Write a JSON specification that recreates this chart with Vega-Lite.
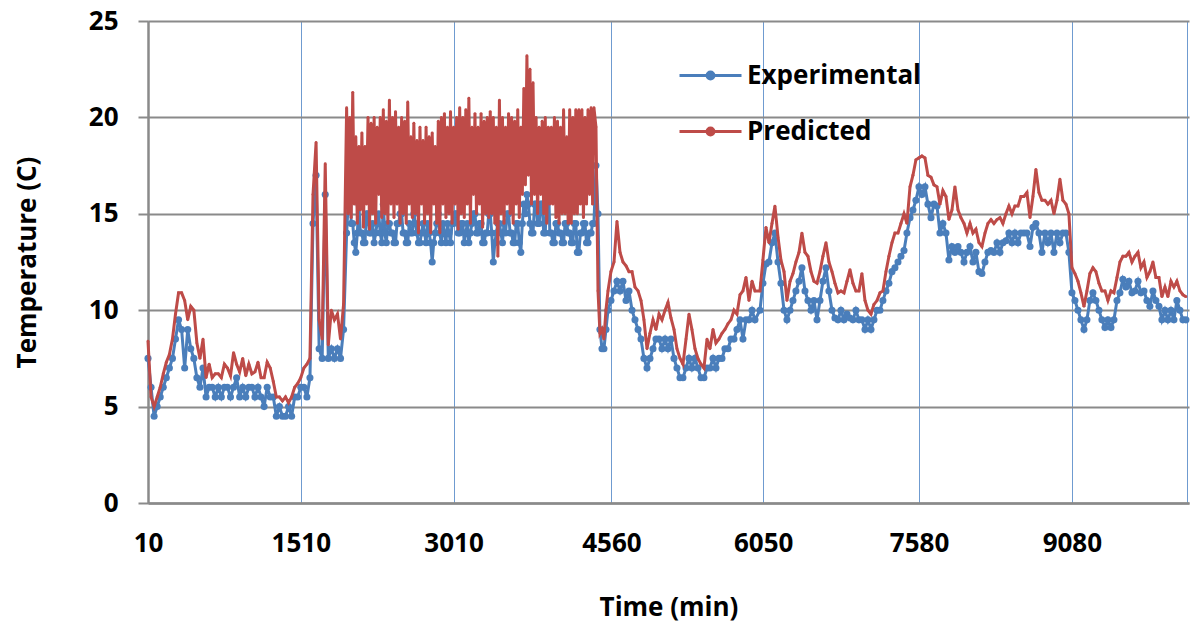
{
"$schema": "https://vega.github.io/schema/vega-lite/v6.json",
"width": 1041, "height": 482,
"autosize": {"type": "none"},
"padding": {"left": 148, "top": 21, "right": 2, "bottom": 128},
"background": "white",
"config": {"view": {"stroke": null}, "font": "Open Sans"},
"data": {"values": [
{"t":10,"e":7.5,"p":8.4},{"t":40,"e":6.0,"p":5.5},{"t":70,"e":4.5,"p":5.0},{"t":100,"e":5.0,"p":5.5},{"t":130,"e":5.5,"p":6.0},{"t":160,"e":6.0,"p":6.7},{"t":190,"e":6.5,"p":7.3},{"t":220,"e":7.0,"p":7.7},{"t":250,"e":7.5,"p":8.5},{"t":280,"e":8.5,"p":9.8},{"t":310,"e":9.5,"p":10.9},{"t":340,"e":9.0,"p":10.9},{"t":370,"e":7.0,"p":10.5},{"t":400,"e":9.0,"p":9.5},{"t":430,"e":8.0,"p":10.2},{"t":460,"e":7.5,"p":10.0},{"t":490,"e":6.5,"p":8.3},{"t":520,"e":6.0,"p":7.5},{"t":550,"e":7.0,"p":8.5},{"t":580,"e":5.5,"p":6.5},{"t":610,"e":6.0,"p":7.2},{"t":640,"e":6.0,"p":6.5},{"t":670,"e":5.5,"p":6.7},{"t":700,"e":6.0,"p":6.7},{"t":730,"e":5.5,"p":6.5},{"t":760,"e":6.0,"p":7.2},{"t":790,"e":6.0,"p":7.0},{"t":820,"e":5.5,"p":6.6},{"t":850,"e":6.0,"p":7.8},{"t":880,"e":6.5,"p":7.2},{"t":910,"e":5.5,"p":6.8},{"t":940,"e":6.0,"p":7.5},{"t":970,"e":5.5,"p":6.6},{"t":1000,"e":6.0,"p":7.2},{"t":1030,"e":6.0,"p":6.7},{"t":1060,"e":5.5,"p":6.8},{"t":1090,"e":6.0,"p":7.3},{"t":1120,"e":5.5,"p":6.5},{"t":1150,"e":5.0,"p":6.5},{"t":1180,"e":6.0,"p":7.3},{"t":1210,"e":5.5,"p":7.0},{"t":1240,"e":5.5,"p":6.3},{"t":1270,"e":4.5,"p":5.5},{"t":1300,"e":5.0,"p":5.5},{"t":1330,"e":4.5,"p":5.3},{"t":1360,"e":4.5,"p":5.5},{"t":1390,"e":5.0,"p":5.2},{"t":1420,"e":4.5,"p":5.5},{"t":1450,"e":5.5,"p":6.0},{"t":1480,"e":5.5,"p":6.2},{"t":1510,"e":6.0,"p":6.5},
{"t":1540,"e":6.0,"p":7.0},{"t":1570,"e":5.5,"p":7.2},{"t":1600,"e":6.5,"p":7.5},{"t":1630,"e":14.5,"p":16.0},{"t":1660,"e":17.0,"p":18.7},{"t":1690,"e":8.0,"p":9.5},{"t":1720,"e":7.5,"p":8.5},{"t":1750,"e":16.0,"p":17.6},{"t":1780,"e":7.5,"p":8.2},{"t":1810,"e":8.0,"p":10.0},{"t":1840,"e":7.5,"p":9.5},{"t":1870,"e":8.0,"p":9.8},{"t":1900,"e":7.5,"p":8.5},{"t":1930,"e":9.0,"p":10.3},
{"t":1960,"e":14.0,"p":20.5},{"t":1975,"e":15.5,"p":15.0},{"t":1990,"e":18.0,"p":20.0},{"t":2005,"e":14.5,"p":14.8},{"t":2020,"e":14.5,"p":21.3},{"t":2035,"e":13.5,"p":15.5},{"t":2050,"e":13.0,"p":19.0},{"t":2065,"e":14.0,"p":14.5},{"t":2080,"e":15.5,"p":18.5},{"t":2095,"e":14.0,"p":15.2},{"t":2110,"e":14.0,"p":19.2},{"t":2125,"e":13.5,"p":14.3},{"t":2140,"e":13.5,"p":18.5},{"t":2155,"e":15.0,"p":15.5},{"t":2170,"e":15.0,"p":20.0},{"t":2185,"e":14.0,"p":14.2},{"t":2200,"e":14.0,"p":19.7},{"t":2215,"e":14.5,"p":15.0},{"t":2230,"e":13.5,"p":20.0},{"t":2245,"e":14.0,"p":14.5},{"t":2260,"e":14.5,"p":19.5},{"t":2275,"e":15.0,"p":16.0},{"t":2290,"e":14.0,"p":20.0},{"t":2305,"e":13.5,"p":14.8},{"t":2320,"e":15.5,"p":20.4},{"t":2335,"e":14.0,"p":15.0},{"t":2350,"e":13.5,"p":19.8},{"t":2365,"e":14.5,"p":14.5},{"t":2380,"e":14.5,"p":20.9},{"t":2395,"e":14.0,"p":15.5},{"t":2410,"e":14.0,"p":20.0},{"t":2425,"e":13.5,"p":14.8},{"t":2440,"e":13.5,"p":20.3},{"t":2455,"e":14.5,"p":15.5},{"t":2470,"e":14.5,"p":19.5},{"t":2485,"e":15.0,"p":14.5},{"t":2500,"e":15.0,"p":20.0},{"t":2515,"e":14.0,"p":15.0},{"t":2530,"e":14.0,"p":19.8},{"t":2545,"e":13.5,"p":14.5},{"t":2560,"e":13.5,"p":20.8},{"t":2575,"e":14.5,"p":15.5},{"t":2590,"e":14.0,"p":19.0},{"t":2605,"e":14.0,"p":14.8},{"t":2620,"e":15.0,"p":19.7},{"t":2635,"e":14.5,"p":15.0},{"t":2650,"e":14.0,"p":18.8},{"t":2665,"e":13.5,"p":14.0},{"t":2680,"e":13.5,"p":19.5},{"t":2695,"e":14.0,"p":15.5},{"t":2710,"e":14.5,"p":18.8},{"t":2725,"e":14.0,"p":14.5},{"t":2740,"e":13.5,"p":19.5},{"t":2755,"e":14.5,"p":15.0},{"t":2770,"e":14.0,"p":19.0},{"t":2785,"e":13.5,"p":14.0},{"t":2800,"e":12.5,"p":19.2},{"t":2815,"e":13.5,"p":15.5},{"t":2830,"e":14.0,"p":18.5},{"t":2845,"e":14.5,"p":14.5},{"t":2860,"e":15.0,"p":19.8},{"t":2875,"e":14.0,"p":14.0},{"t":2890,"e":13.5,"p":20.0},{"t":2905,"e":14.5,"p":15.5},{"t":2920,"e":14.0,"p":20.2},{"t":2935,"e":13.5,"p":14.8},{"t":2950,"e":14.5,"p":19.5},{"t":2965,"e":14.0,"p":15.0},{"t":2980,"e":13.5,"p":20.3},{"t":2995,"e":14.5,"p":14.5},{"t":3010,"e":14.5,"p":19.5},{"t":3025,"e":15.0,"p":15.5},{"t":3040,"e":15.0,"p":20.0},{"t":3055,"e":14.0,"p":14.2},{"t":3070,"e":14.0,"p":20.5},{"t":3085,"e":14.5,"p":15.0},{"t":3100,"e":14.5,"p":20.0},{"t":3115,"e":13.5,"p":14.8},{"t":3130,"e":14.0,"p":20.4},{"t":3145,"e":14.5,"p":15.5},{"t":3160,"e":13.5,"p":21.0},{"t":3175,"e":14.0,"p":14.5},{"t":3190,"e":14.5,"p":19.5},{"t":3205,"e":15.0,"p":16.0},{"t":3220,"e":15.0,"p":20.2},{"t":3235,"e":14.0,"p":15.0},{"t":3250,"e":14.0,"p":19.5},{"t":3265,"e":14.5,"p":15.5},{"t":3280,"e":14.5,"p":20.2},{"t":3295,"e":13.5,"p":14.3},{"t":3310,"e":13.5,"p":19.8},{"t":3325,"e":14.0,"p":15.0},{"t":3340,"e":14.0,"p":20.0},{"t":3355,"e":15.0,"p":14.8},{"t":3370,"e":15.0,"p":20.3},{"t":3385,"e":14.0,"p":15.0},{"t":3400,"e":12.5,"p":20.0},{"t":3415,"e":13.5,"p":14.5},{"t":3430,"e":14.0,"p":19.5},{"t":3445,"e":14.5,"p":12.8},{"t":3460,"e":14.5,"p":20.9},{"t":3475,"e":14.0,"p":15.0},{"t":3490,"e":13.5,"p":20.0},{"t":3505,"e":14.5,"p":14.5},{"t":3520,"e":14.0,"p":19.5},{"t":3535,"e":15.0,"p":15.5},{"t":3550,"e":15.0,"p":20.2},{"t":3565,"e":14.0,"p":15.0},{"t":3580,"e":14.0,"p":20.0},{"t":3595,"e":13.5,"p":14.5},{"t":3610,"e":13.5,"p":19.8},{"t":3625,"e":14.5,"p":15.5},{"t":3640,"e":14.5,"p":20.4},{"t":3655,"e":13.5,"p":14.8},{"t":3670,"e":13.0,"p":19.5},{"t":3685,"e":14.5,"p":16.0},{"t":3700,"e":15.5,"p":21.5},{"t":3715,"e":15.0,"p":16.5},{"t":3730,"e":16.0,"p":23.2},{"t":3745,"e":15.5,"p":17.0},{"t":3760,"e":14.5,"p":22.5},{"t":3775,"e":14.0,"p":15.5},{"t":3790,"e":14.0,"p":21.8},{"t":3805,"e":15.5,"p":16.0},{"t":3820,"e":15.5,"p":20.0},{"t":3835,"e":14.5,"p":15.0},{"t":3850,"e":14.5,"p":19.5},{"t":3865,"e":15.5,"p":16.0},{"t":3880,"e":15.5,"p":19.8},{"t":3895,"e":14.0,"p":15.0},{"t":3910,"e":14.0,"p":20.0},{"t":3925,"e":16.0,"p":14.5},{"t":3940,"e":17.0,"p":19.5},{"t":3955,"e":14.0,"p":15.5},{"t":3970,"e":14.0,"p":19.5},{"t":3985,"e":13.5,"p":15.5},{"t":4000,"e":13.5,"p":20.0},{"t":4015,"e":14.5,"p":14.8},{"t":4030,"e":14.5,"p":19.8},{"t":4045,"e":14.0,"p":14.5},{"t":4060,"e":14.0,"p":19.5},{"t":4075,"e":13.5,"p":15.0},{"t":4090,"e":13.5,"p":20.4},{"t":4105,"e":14.5,"p":15.0},{"t":4120,"e":14.5,"p":19.0},{"t":4135,"e":14.0,"p":14.5},{"t":4150,"e":14.0,"p":20.4},{"t":4165,"e":13.5,"p":14.5},{"t":4180,"e":13.5,"p":20.0},{"t":4195,"e":14.5,"p":15.0},{"t":4210,"e":14.5,"p":20.4},{"t":4225,"e":13.0,"p":15.0},{"t":4240,"e":13.0,"p":20.4},{"t":4255,"e":14.0,"p":15.5},{"t":4270,"e":14.0,"p":20.4},{"t":4285,"e":14.5,"p":14.8},{"t":4300,"e":14.5,"p":20.0},{"t":4315,"e":13.5,"p":15.5},{"t":4330,"e":13.5,"p":20.4},{"t":4345,"e":14.0,"p":16.0},{"t":4360,"e":14.0,"p":20.5},{"t":4375,"e":14.5,"p":15.5},
{"t":4388,"e":14.5,"p":20.5},{"t":4408,"e":17.5,"p":19.5},{"t":4428,"e":15.0,"p":11.0},{"t":4447,"e":9.0,"p":8.8},{"t":4467,"e":8.0,"p":9.0},{"t":4486,"e":8.0,"p":8.5},{"t":4506,"e":9.0,"p":10.0},
{"t":4526,"e":10.0,"p":11.0},{"t":4555,"e":10.5,"p":12.0},{"t":4585,"e":11.0,"p":12.5},{"t":4614,"e":11.5,"p":14.6},{"t":4644,"e":11.0,"p":13.0},{"t":4673,"e":11.5,"p":12.5},{"t":4703,"e":10.5,"p":12.3},{"t":4732,"e":11.0,"p":12.0},{"t":4762,"e":10.0,"p":12.0},{"t":4791,"e":9.5,"p":11.2},{"t":4821,"e":9.0,"p":11.0},{"t":4850,"e":8.5,"p":10.5},{"t":4879,"e":7.5,"p":9.5},{"t":4909,"e":7.0,"p":8.0},{"t":4938,"e":7.5,"p":8.8},{"t":4968,"e":8.0,"p":9.5},{"t":4997,"e":8.5,"p":9.0},{"t":5027,"e":8.5,"p":9.8},{"t":5056,"e":8.0,"p":9.5},{"t":5086,"e":8.5,"p":10.0},{"t":5115,"e":8.0,"p":10.4},{"t":5144,"e":8.5,"p":9.6},{"t":5174,"e":7.5,"p":9.0},{"t":5203,"e":7.0,"p":8.0},{"t":5233,"e":6.5,"p":7.5},{"t":5262,"e":6.5,"p":7.2},{"t":5292,"e":7.0,"p":8.5},{"t":5321,"e":7.5,"p":9.8},{"t":5350,"e":7.0,"p":9.0},{"t":5380,"e":7.5,"p":8.0},{"t":5409,"e":7.0,"p":7.5},{"t":5439,"e":6.5,"p":7.2},{"t":5468,"e":6.5,"p":7.0},{"t":5498,"e":7.0,"p":8.5},{"t":5527,"e":7.0,"p":8.0},{"t":5557,"e":7.5,"p":9.0},{"t":5586,"e":7.0,"p":8.3},{"t":5615,"e":7.5,"p":8.5},{"t":5645,"e":7.5,"p":8.8},{"t":5674,"e":8.0,"p":9.0},{"t":5704,"e":8.0,"p":9.3},{"t":5733,"e":8.5,"p":9.5},{"t":5763,"e":8.5,"p":10.0},{"t":5792,"e":9.0,"p":9.8},{"t":5822,"e":9.5,"p":10.8},{"t":5851,"e":8.5,"p":11.0},{"t":5881,"e":9.5,"p":11.7},{"t":5910,"e":9.5,"p":10.5},{"t":5940,"e":10.0,"p":11.5},{"t":5969,"e":9.5,"p":11.0},
{"t":6018,"e":10.0,"p":11.0},{"t":6047,"e":11.4,"p":12.6},{"t":6077,"e":12.4,"p":14.3},{"t":6106,"e":12.5,"p":13.5},{"t":6136,"e":13.5,"p":14.5},{"t":6165,"e":14.0,"p":15.4},{"t":6195,"e":12.5,"p":13.8},{"t":6224,"e":11.4,"p":12.6},{"t":6254,"e":10.0,"p":12.0},{"t":6283,"e":9.5,"p":10.5},{"t":6313,"e":10.0,"p":11.5},{"t":6342,"e":10.5,"p":11.9},{"t":6371,"e":11.0,"p":12.5},{"t":6401,"e":11.5,"p":13.0},{"t":6430,"e":12.2,"p":14.0},{"t":6460,"e":11.0,"p":13.0},{"t":6489,"e":10.5,"p":12.8},{"t":6519,"e":10.0,"p":12.0},{"t":6548,"e":10.5,"p":11.5},{"t":6578,"e":9.5,"p":11.4},{"t":6607,"e":10.5,"p":12.0},{"t":6636,"e":11.5,"p":12.8},{"t":6666,"e":12.2,"p":13.5},{"t":6695,"e":11.0,"p":12.5},{"t":6725,"e":10.0,"p":12.0},{"t":6754,"e":9.6,"p":11.4},{"t":6784,"e":9.5,"p":10.9},{"t":6813,"e":10.0,"p":11.0},{"t":6843,"e":9.5,"p":10.9},{"t":6872,"e":9.8,"p":11.5},{"t":6902,"e":9.6,"p":12.1},{"t":6931,"e":9.5,"p":11.4},{"t":6960,"e":10.0,"p":11.0},{"t":6990,"e":9.5,"p":11.0},{"t":7019,"e":9.5,"p":11.9},{"t":7049,"e":9.0,"p":10.5},{"t":7078,"e":9.5,"p":10.0},{"t":7108,"e":9.0,"p":9.8},{"t":7137,"e":9.5,"p":10.3},{"t":7167,"e":10.0,"p":10.5},{"t":7196,"e":10.0,"p":10.9},{"t":7225,"e":10.5,"p":11.0},{"t":7255,"e":11.0,"p":12.0},{"t":7284,"e":11.4,"p":12.8},{"t":7314,"e":12.0,"p":13.5},{"t":7343,"e":12.2,"p":14.0},{"t":7373,"e":12.5,"p":14.0},{"t":7402,"e":12.8,"p":14.5},{"t":7432,"e":13.1,"p":15.0},{"t":7461,"e":14.0,"p":14.5},{"t":7491,"e":14.8,"p":16.4},{"t":7520,"e":15.2,"p":17.0},{"t":7549,"e":15.7,"p":17.8},{"t":7579,"e":16.4,"p":17.9},{"t":7608,"e":16.0,"p":18.0},{"t":7638,"e":16.4,"p":17.9},{"t":7667,"e":15.5,"p":17.0},{"t":7697,"e":14.8,"p":16.9},{"t":7726,"e":15.5,"p":16.5},{"t":7756,"e":15.4,"p":16.4},{"t":7785,"e":14.0,"p":15.5},{"t":7814,"e":14.5,"p":16.2},{"t":7844,"e":14.0,"p":15.9},{"t":7873,"e":12.6,"p":14.7},{"t":7903,"e":13.3,"p":15.2},{"t":7932,"e":13.0,"p":16.4},{"t":7962,"e":13.3,"p":15.2},{"t":7991,"e":13.0,"p":14.8},{"t":8021,"e":12.5,"p":14.5},{"t":8050,"e":13.0,"p":14.0},{"t":8080,"e":13.3,"p":14.5},{"t":8109,"e":12.5,"p":14.0},{"t":8138,"e":13.0,"p":14.2},{"t":8168,"e":12.0,"p":13.5},{"t":8197,"e":11.9,"p":13.3},{"t":8227,"e":12.5,"p":14.0},{"t":8256,"e":13.0,"p":14.5},{"t":8286,"e":13.1,"p":14.7},{"t":8315,"e":13.0,"p":14.5},{"t":8345,"e":13.5,"p":14.7},{"t":8374,"e":13.0,"p":14.8},{"t":8403,"e":13.5,"p":14.5},{"t":8433,"e":13.6,"p":15.0},{"t":8462,"e":14.0,"p":15.4},{"t":8492,"e":13.5,"p":15.0},{"t":8521,"e":14.0,"p":15.4},{"t":8551,"e":13.5,"p":15.4},{"t":8580,"e":14.0,"p":15.9},{"t":8610,"e":14.0,"p":15.9},{"t":8639,"e":14.0,"p":16.1},{"t":8669,"e":13.3,"p":14.8},{"t":8698,"e":14.3,"p":15.9},{"t":8727,"e":14.5,"p":17.3},{"t":8757,"e":14.0,"p":16.1},{"t":8786,"e":13.0,"p":15.7},{"t":8816,"e":14.0,"p":15.7},{"t":8845,"e":13.5,"p":15.5},{"t":8875,"e":14.0,"p":15.7},{"t":8904,"e":13.0,"p":15.0},{"t":8934,"e":14.0,"p":15.7},{"t":8963,"e":13.5,"p":16.8},{"t":8992,"e":14.0,"p":15.7},{"t":9022,"e":14.0,"p":15.5},{"t":9051,"e":13.0,"p":15.0},{"t":9081,"e":10.9,"p":12.2},{"t":9110,"e":10.5,"p":11.9},{"t":9140,"e":10.0,"p":11.5},{"t":9169,"e":9.5,"p":10.9},{"t":9199,"e":9.0,"p":10.2},{"t":9228,"e":9.5,"p":11.0},{"t":9257,"e":10.5,"p":11.9},{"t":9287,"e":10.9,"p":12.2},{"t":9316,"e":10.5,"p":12.0},{"t":9346,"e":10.0,"p":11.4},{"t":9375,"e":9.5,"p":11.0},{"t":9405,"e":9.1,"p":11.0},{"t":9434,"e":9.5,"p":10.5},{"t":9464,"e":9.1,"p":11.0},{"t":9493,"e":9.5,"p":10.9},{"t":9523,"e":10.5,"p":11.7},{"t":9552,"e":10.9,"p":12.5},{"t":9581,"e":11.6,"p":12.8},{"t":9611,"e":11.2,"p":12.8},{"t":9640,"e":11.5,"p":13.0},{"t":9670,"e":10.9,"p":12.5},{"t":9699,"e":11.0,"p":12.8},{"t":9729,"e":11.5,"p":13.0},{"t":9758,"e":10.9,"p":12.2},{"t":9788,"e":11.0,"p":12.5},{"t":9817,"e":10.5,"p":11.7},{"t":9846,"e":10.2,"p":12.0},{"t":9876,"e":11.0,"p":12.5},{"t":9905,"e":10.5,"p":11.7},{"t":9935,"e":10.2,"p":11.7},{"t":9964,"e":9.5,"p":10.7},{"t":9994,"e":10.0,"p":11.2},{"t":10023,"e":9.5,"p":10.7},{"t":10053,"e":10.0,"p":11.5},{"t":10082,"e":9.5,"p":11.2},{"t":10111,"e":10.5,"p":11.5},{"t":10141,"e":10.0,"p":11.0},{"t":10170,"e":9.5,"p":10.8},{"t":10200,"e":9.5,"p":10.7}
]},
"encoding": {
  "x": {"field": "t", "type": "quantitative",
    "scale": {"domain": [10, 10230], "nice": false, "zero": false},
    "axis": {"values": [10, 1510, 3010, 4560, 6050, 7580, 9080, 10210], "format": "d",
      "labelExpr": "datum.value > 10000 ? '' : datum.label",
      "labelFlush": false, "labelOverlap": false,
      "grid": true, "gridColor": "#6f9bd0", "gridWidth": 1,
      "domainColor": "#8a8a8a", "domainWidth": 2.5,
      "ticks": false, "tickSize": 0,
      "labelFont": "Open Sans", "labelFontWeight": "bold", "labelFontSize": 26, "labelColor": "#000000", "labelPadding": 27,
      "title": "Time (min)", "titleFont": "Open Sans", "titleFontWeight": "bold", "titleFontSize": 26, "titleColor": "#000000", "titlePadding": 38}}
},
"layer": [
  {"mark": {"type": "line", "strokeWidth": 3, "point": {"filled": true, "size": 50}},
   "encoding": {
     "y": {"field": "e", "type": "quantitative",
       "scale": {"domain": [0, 25], "nice": false},
       "axis": {"values": [0, 5, 10, 15, 20, 25], "grid": true, "gridColor": "#8a8a8a", "gridWidth": 2,
         "domainColor": "#8a8a8a", "domainWidth": 2.5, "tickColor": "#8a8a8a", "tickWidth": 2, "tickSize": 10,
         "labelFont": "Open Sans", "labelFontWeight": "bold", "labelFontSize": 26, "labelColor": "#000000", "labelPadding": 20,
         "title": "Temperature (C)", "titleFont": "Open Sans", "titleFontWeight": "bold", "titleFontSize": 26, "titleColor": "#000000", "titlePadding": 48}},
     "color": {"datum": "Experimental", "type": "nominal",
       "scale": {"domain": ["Experimental", "Predicted"], "range": ["#4A7EBB", "#BE4B48"]},
       "legend": {"orient": "none", "legendX": 530, "legendY": 22, "title": null, "padding": 0,
         "symbolType": "M-1,0L1,0M-0.11,0A0.11,0.11,0,1,0,0.11,0A0.11,0.11,0,1,0,-0.11,0",
         "symbolSize": 3844, "symbolStrokeWidth": 3,
         "labelFont": "Open Sans", "labelFontWeight": "bold", "labelFontSize": 26, "labelColor": "#000000",
         "labelLimit": 0, "labelOffset": 4, "rowPadding": 10}}
   }},
  {"mark": {"type": "line", "strokeWidth": 3, "point": {"filled": true, "size": 8}},
   "encoding": {
     "y": {"field": "p", "type": "quantitative"},
     "color": {"datum": "Predicted", "type": "nominal"}
   }}
]
}
